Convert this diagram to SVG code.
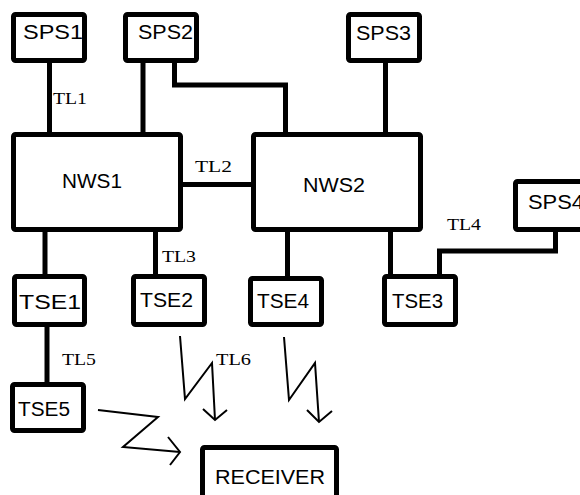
<svg xmlns="http://www.w3.org/2000/svg" width="580" height="495" viewBox="0 0 580 495">
<style>
.box{fill:#fff;stroke:#000;stroke-width:5;stroke-linejoin:round}
.lbl{font-family:"Liberation Sans",Arial,sans-serif;font-size:20px;fill:#000}
.tl{font-family:"Liberation Serif","Times New Roman",serif;font-size:17px;fill:#000}
.wire{fill:none;stroke:#000;stroke-width:5}
.bolt{fill:none;stroke:#000;stroke-width:2;stroke-linejoin:miter}
</style>
<rect width="580" height="495" fill="#fff"/>
<g id="connectors">
<line class="wire" x1="49.5" y1="62" x2="49.5" y2="133"/>
<line class="wire" x1="143" y1="62" x2="143" y2="133" stroke-width="6"/>
<path class="wire" d="M174.5,62 V85 H285.5 V133"/>
<line class="wire" x1="385.5" y1="62" x2="385.5" y2="133"/>
<line class="wire" x1="182" y1="184.5" x2="252" y2="184.5"/>
<line class="wire" x1="45" y1="231" x2="45" y2="275"/>
<line class="wire" x1="155.5" y1="231" x2="155.5" y2="275" stroke-width="4"/>
<line class="wire" x1="287.5" y1="231" x2="287.5" y2="277"/>
<line class="wire" x1="390.5" y1="231" x2="390.5" y2="275"/>
<path class="wire" d="M439.5,275 V251 H555.5 V231"/>
<line class="wire" x1="47" y1="326" x2="47" y2="383"/>
<path class="bolt" d="M98,410 L158,417 L123,447 L180,452"/>
<path class="bolt" d="M168,437 L180,452 L170,465"/>
<path class="bolt" d="M180,336 L185,399 L212,363 L215,420"/>
<path class="bolt" d="M203,409 L215,420 L227,410"/>
<path class="bolt" d="M284,337 L289,400 L315,363 L319,422"/>
<path class="bolt" d="M307,410 L319,422 L332,411"/>
<text class="tl" x="53" y="104" textLength="34" lengthAdjust="spacingAndGlyphs">TL1</text>
<text class="tl" x="195" y="172" textLength="37" lengthAdjust="spacingAndGlyphs">TL2</text>
<text class="tl" x="162" y="262" textLength="34" lengthAdjust="spacingAndGlyphs">TL3</text>
<text class="tl" x="447" y="230" textLength="34" lengthAdjust="spacingAndGlyphs">TL4</text>
<text class="tl" x="62" y="365" textLength="34" lengthAdjust="spacingAndGlyphs">TL5</text>
<text class="tl" x="216" y="365" textLength="35" lengthAdjust="spacingAndGlyphs">TL6</text>
</g>
<g id="SPS1"><rect class="box" x="13.5" y="14.5" width="71" height="46" rx="2"/><text class="lbl" x="23" y="39" textLength="60" lengthAdjust="spacingAndGlyphs">SPS1</text></g>
<g id="SPS2"><rect class="box" x="125.5" y="14.5" width="71" height="46" rx="2"/><text class="lbl" x="138" y="39" textLength="55" lengthAdjust="spacingAndGlyphs">SPS2</text></g>
<g id="SPS3"><rect class="box" x="348.5" y="14.5" width="71" height="46" rx="2"/><text class="lbl" x="356" y="40" textLength="55" lengthAdjust="spacingAndGlyphs">SPS3</text></g>
<g id="SPS4"><rect class="box" x="515.5" y="181.5" width="80" height="48" rx="2"/><text class="lbl" x="528" y="209" textLength="56" lengthAdjust="spacingAndGlyphs">SPS4</text></g>
<g id="NWS1"><rect class="box" x="13.5" y="134.5" width="167" height="95" rx="2"/><text class="lbl" x="62" y="188" textLength="60" lengthAdjust="spacingAndGlyphs">NWS1</text></g>
<g id="NWS2"><rect class="box" x="253.5" y="134.5" width="167" height="95" rx="2"/><text class="lbl" x="303" y="192" textLength="62" lengthAdjust="spacingAndGlyphs">NWS2</text></g>
<g id="TSE1"><rect class="box" x="14.5" y="276.5" width="70" height="48" rx="2"/><text class="lbl" x="19" y="309" textLength="62" lengthAdjust="spacingAndGlyphs">TSE1</text></g>
<g id="TSE2"><rect class="box" x="133.5" y="276.5" width="71" height="48" rx="2"/><text class="lbl" x="140" y="307" textLength="53" lengthAdjust="spacingAndGlyphs">TSE2</text></g>
<g id="TSE4"><rect class="box" x="250.5" y="278.5" width="71" height="46" rx="2"/><text class="lbl" x="257" y="308" textLength="52" lengthAdjust="spacingAndGlyphs">TSE4</text></g>
<g id="TSE3"><rect class="box" x="384.5" y="276.5" width="71" height="48" rx="2"/><text class="lbl" x="392" y="308" textLength="51" lengthAdjust="spacingAndGlyphs">TSE3</text></g>
<g id="TSE5"><rect class="box" x="12.5" y="384.5" width="71" height="46" rx="2"/><text class="lbl" x="18" y="416" textLength="52" lengthAdjust="spacingAndGlyphs">TSE5</text></g>
<g id="RECEIVER"><rect class="box" x="202.5" y="447.5" width="134" height="60" rx="2"/><text class="lbl" x="215" y="484" textLength="110" lengthAdjust="spacingAndGlyphs">RECEIVER</text></g>
</svg>
